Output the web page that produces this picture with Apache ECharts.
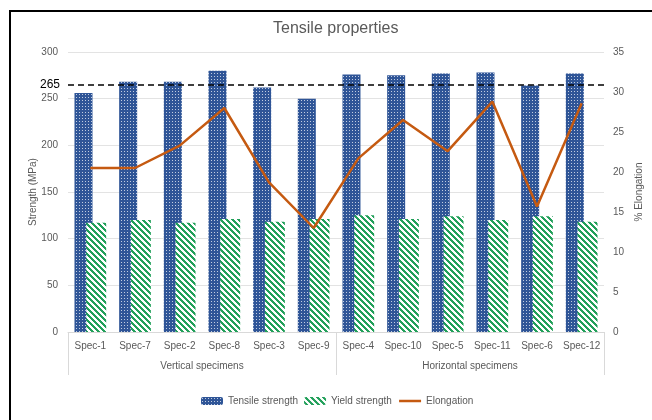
<!DOCTYPE html>
<html>
<head>
<meta charset="utf-8">
<script src="https://cdn.jsdelivr.net/npm/echarts@6/dist/echarts.min.js"></script>
<style>
  html, body { margin: 0; padding: 0; background: #fff; }
  #chart { width: 652px; height: 420px; }
</style>
</head>
<body>
<div id="chart"></div>
<script>
'use strict';

// data
var specs = ['Spec-1','Spec-7','Spec-2','Spec-8','Spec-3','Spec-9','Spec-4','Spec-10','Spec-5','Spec-11','Spec-6','Spec-12']
var groups = ['Vertical specimens','Horizontal specimens']
var tensile = [256, 268, 268, 280, 262, 250, 276, 275, 277, 278, 264, 277]
var yieldStr = [117, 120, 117, 121, 118, 121, 125, 121, 124, 120, 124, 118]
var elongation = [20.5, 20.5, 23.3, 28.0, 18.7, 13.0, 21.7, 26.5, 22.6, 28.8, 15.7, 28.6]
var refLine = 265

var textColor = '#595959'
var font = 'Liberation Sans'

// dotted blue fill
function dotPattern(){
  var c = document.createElement('canvas')
  c.width = 3; c.height = 3
  var ctx = c.getContext('2d')
  ctx.fillStyle = '#2f5597'
  ctx.fillRect(0, 0, 3, 3)
  ctx.fillStyle = 'rgba(255,255,255,0.7)'
  ctx.fillRect(1, 1, 1, 1)
  return c
}

// green diagonal stripes, going down to the right
function stripePattern(){
  var s = 6, w = 3
  var c = document.createElement('canvas')
  c.width = s; c.height = s
  var ctx = c.getContext('2d')
  ctx.fillStyle = '#fff'
  ctx.fillRect(0, 0, s, s)
  ctx.fillStyle = '#22a05a'
  for (var y = 0; y < s; y++) {
    for (var x = 0; x < s; x++) {
      if ((((x - y) % s) + s) % s < w) ctx.fillRect(x, y, 1, 1)
    }
  }
  return c
}

var chart = echarts.init(document.getElementById('chart'))
var option = {
  animation: false,
  textStyle: { fontFamily: font },
  title: {
    text: 'Tensile properties',
    left: 273,
    top: 21,
    padding: 0,
    textStyle: { fontSize: 16, fontWeight: 'normal', color: textColor, fontFamily: font }
  },
  graphic: [{
    type: 'rect',
    shape: { x: 10, y: 11, width: 700, height: 500 },
    style: { fill: 'none', stroke: '#000', lineWidth: 2 },
    silent: true
  }],
  legend: {
    top: 391,
    left: 196,
    itemWidth: 22,
    itemHeight: 8,
    itemGap: 6,
    textStyle: { fontSize: 10, color: textColor },
    data: [
      'Tensile strength',
      'Yield strength',
      { name: 'Elongation', itemStyle: { color: 'rgba(0,0,0,0)', borderWidth: 0 }, lineStyle: { width: 2.5, color: '#c55a11' } }
    ]
  },
  grid: { left: 68, right: 46, top: 52, bottom: 88 },
  xAxis: [{
    type: 'category',
    data: specs,
    axisLine: { lineStyle: { color: '#d9d9d9' } },
    axisTick: { show: false },
    axisLabel: { fontSize: 10, color: textColor, margin: 9, interval: 0 }
  }, {
    type: 'category',
    data: groups,
    position: 'bottom',
    axisLine: { show: false },
    axisTick: { show: true, length: 43, lineStyle: { color: '#d9d9d9' } },
    axisLabel: { fontSize: 10, color: textColor, margin: 29 }
  }],
  yAxis: [{
    type: 'value',
    min: 0, max: 300, interval: 50,
    name: 'Strength (MPa)',
    nameLocation: 'middle',
    nameGap: 30,
    nameMoveOverlap: false,
    nameTextStyle: { fontSize: 10, color: textColor },
    axisLabel: { fontSize: 10, color: textColor, margin: 10 },
    splitLine: { lineStyle: { color: '#e3e3e3' } }
  }, {
    type: 'value',
    min: 0, max: 35, interval: 5,
    name: '% Elongation',
    nameLocation: 'middle',
    nameGap: 30,
    nameMoveOverlap: false,
    nameRotate: 90,
    nameTextStyle: { fontSize: 10, color: textColor },
    axisLabel: { fontSize: 10, color: textColor, margin: 9 },
    splitLine: { show: false }
  }],
  series: [{
    name: 'Tensile strength',
    type: 'bar',
    data: tensile,
    barWidth: 18,
    barGap: '-35%',
    itemStyle: { color: { image: dotPattern(), repeat: 'repeat' } },
    markLine: {
      silent: true,
      symbol: 'none',
      lineStyle: { color: '#000', type: [6, 4], width: 1.5 },
      label: { position: 'start', formatter: String(refLine), color: '#000', fontSize: 12, distance: 8 },
      data: [{ yAxis: refLine }]
    }
  }, {
    name: 'Yield strength',
    type: 'bar',
    data: yieldStr,
    barWidth: 20,
    itemStyle: { color: { image: stripePattern(), repeat: 'repeat' } }
  }, {
    name: 'Elongation',
    type: 'line',
    yAxisIndex: 1,
    data: elongation,
    symbol: 'none',
    lineStyle: { color: '#c55a11', width: 2.5 },
    itemStyle: { color: '#c55a11' },
    z: 5
  }]
}
chart.setOption(option)
</script>
</body>
</html>
